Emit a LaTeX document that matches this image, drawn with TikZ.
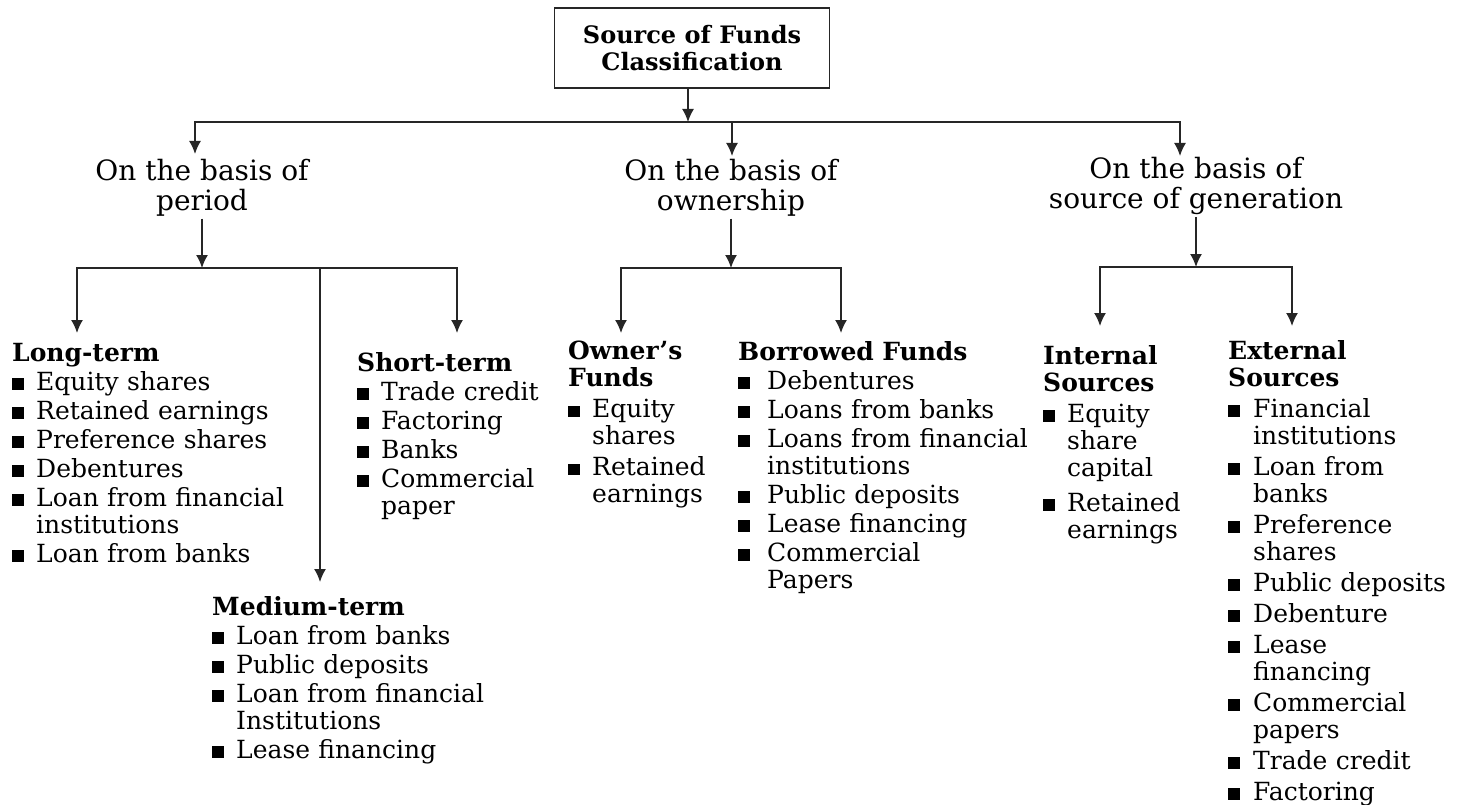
\documentclass[tikz,border=0pt]{standalone}
\usepackage{fontspec}
\setmainfont{DejaVu Serif}
\usetikzlibrary{arrows.meta}
\newlength{\itmind}
\setlength{\itmind}{24pt}
\newcommand{\itm}[1]{\par\hangindent=\itmind\hangafter=1\noindent\makebox[\itmind][l]{\rule[0.5pt]{12pt}{11.5pt}}#1\par}
\newcommand{\hdr}[1]{\noindent\textbf{#1}\par}
\begin{document}
\begin{tikzpicture}[x=1pt,y=1pt,
  line/.style={line width=1.5pt, draw=black!85},
  arr/.style={line, -{Latex[length=13pt,width=12pt]}},
  topbox/.style={draw=black!85, line width=1.5pt, minimum width=275pt, minimum height=80pt, align=center, font=\fontsize{24}{27}\selectfont\bfseries},
  basis/.style={align=center, inner sep=2pt, font=\fontsize{28}{30}\selectfont},
  lst/.style={anchor=north west, inner sep=0pt, text width=#1, align=left,
     font=\fontsize{25}{27}\selectfont\setlength{\parskip}{2pt}},
]
\useasboundingbox (0,0) rectangle (1463,-805);

\node[topbox] (top) at (692,-48) {Source of Funds\\Classification};

\node[basis] (per) at (202,-188) {On the basis of\\period};
\node[basis] (own) at (731,-188) {On the basis of\\ownership};
\node[basis] (gen) at (1196,-186) {On the basis of\\source of generation};

\coordinate (h1) at (688,-122);
\coordinate (perin) at (195,-154);
\coordinate (ownin) at (732,-156);
\coordinate (genin) at (1180,-156);
\draw[arr] (top.south -| h1) -- (h1);
\draw[arr] (h1) -| (perin);
\draw[arr] (h1) -| (ownin);
\draw[arr] (h1) -| (genin);

% period branch
\coordinate (p1) at (202,-268);
\coordinate (ltin) at (77,-333);
\coordinate (stin) at (457,-333);
\coordinate (mtj) at (320,-268);
\coordinate (mtin) at (320,-582);
\draw[arr] (per.south) -- (p1);
\draw[arr] (p1) -| (ltin);
\draw[arr] (p1) -| (stin);
\draw[arr] (mtj) -- (mtin);

% ownership branch
\coordinate (o1) at (731,-268);
\coordinate (ofin) at (621,-333);
\coordinate (bfin) at (841,-333);
\draw[arr] (own.south) -- (o1);
\draw[arr] (o1) -| (ofin);
\draw[arr] (o1) -| (bfin);

% generation branch
\coordinate (g1) at (1196,-267);
\coordinate (isin) at (1100,-326);
\coordinate (esin) at (1292,-326);
\draw[arr] (gen.south) -- (g1);
\draw[arr] (g1) -| (isin);
\draw[arr] (g1) -| (esin);

\node[lst=330pt] (lt) at (12,-343) {\hdr{Long-term}
  \itm{Equity shares}
  \itm{Retained earnings}
  \itm{Preference shares}
  \itm{Debentures}
  \itm{Loan from financial\newline institutions}
  \itm{Loan from banks}};

\node[lst=220pt] (st) at (357,-352) {\hdr{Short-term}
  \itm{Trade credit}
  \itm{Factoring}
  \itm{Banks}
  \itm{Commercial\newline paper}};

\node[lst=330pt] (mt) at (212,-596) {\hdr{Medium-term}
  \itm{Loan from banks}
  \itm{Public deposits}
  \itm{Loan from financial\newline Institutions}
  \itm{Lease financing}};

\node[lst=160pt] (of) at (568,-341) {\setlength{\parskip}{4pt}\hdr{Owner's\newline Funds}
  \itm{Equity\newline shares}
  \itm{Retained\newline earnings}};

\node[lst=320pt] (bf) at (738,-341) {\setlength{\itmind}{29pt}\hdr{Borrowed Funds}
  \itm{Debentures}
  \itm{Loans from banks}
  \itm{Loans from financial\newline institutions}
  \itm{Public deposits}
  \itm{Lease financing}
  \itm{Commercial\newline Papers}};

\node[lst=170pt] (is) at (1043,-345) {\setlength{\parskip}{4pt}\hdr{Internal\newline Sources}
  \itm{Equity\newline share\newline capital}
  \vspace{4pt}
  \itm{Retained\newline earnings}};

\node[lst=240pt] (es) at (1228,-340) {\setlength{\itmind}{25pt}\setlength{\parskip}{4pt}\hdr{External\newline Sources}
  \itm{Financial\newline institutions}
  \itm{Loan from\newline banks}
  \itm{Preference\newline shares}
  \itm{Public deposits}
  \itm{Debenture}
  \itm{Lease\newline financing}
  \itm{Commercial\newline papers}
  \itm{Trade credit}
  \itm{Factoring}};
\end{tikzpicture}
\end{document}
